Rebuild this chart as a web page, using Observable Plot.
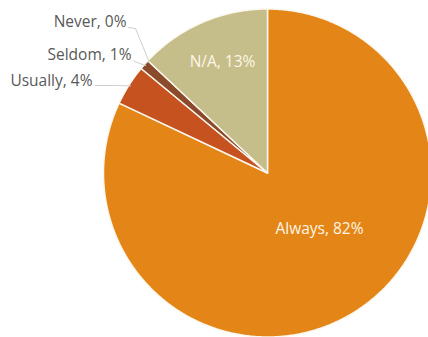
<!DOCTYPE html>
<html>
<head>
<meta charset="utf-8">
<script src="https://cdn.jsdelivr.net/npm/d3@7"></script>
<script src="https://cdn.jsdelivr.net/npm/@observablehq/plot@0.6"></script>
<style>
  html, body { margin: 0; padding: 0; background: #fff; }
  #chart svg { display: block; }
</style>
</head>
<body>
<div id="chart"></div>
<script>
// Data (clockwise from 12 o'clock)
const categories = ["Always", "Usually", "Seldom", "Never", "N/A"];
const percents   = [82, 4, 1, 0, 13];
const colors     = ["#E38517", "#C5521F", "#8B4A2B", "#8B4A2B", "#C5BE8A"];

const W = 428, H = 337;
const cx = 267, cy = 172.5, R = 164;

// pie angles (d3.pie, clockwise from top, no sorting)
const arcs = d3.pie().sort(null).value(d => d)(percents);

// polygon points in unit coordinates for each slice
const slicePts = [];
arcs.forEach((a, i) => {
  if (a.endAngle - a.startAngle <= 0) return;
  const n = Math.max(2, Math.ceil((a.endAngle - a.startAngle) / (Math.PI / 360)));
  slicePts.push({k: categories[i], x: 0, y: 0});
  for (let j = 0; j <= n; j++) {
    const t = a.startAngle + (a.endAngle - a.startAngle) * j / n;
    slicePts.push({k: categories[i], x: Math.sin(t), y: Math.cos(t)});
  }
  slicePts.push({k: categories[i], x: 0, y: 0});
});

const labelText = categories.map((c, i) => `${c}, ${percents[i]}%`);
const mid = arcs.map(a => (a.startAngle + a.endAngle) / 2);

// label layout (converted from pixel placement to unit coords)
const toU = px => (px - cx) / R, toV = py => (cy - py) / R;
const insidePos = {
  "Always": [toU(319), toV(229)],
  "N/A":    [toU(222), toV(62)]
};
const outsidePos = {
  "Never":   {x: toU(126), y: toV(22), start: [toU(128), toV(27)], elbow: [toU(135), toV(28)]},
  "Seldom":  {x: toU(131), y: toV(55), start: [toU(133), toV(60)], elbow: [toU(134), toV(61)]},
  "Usually": {x: toU(92),  y: toV(81), start: [toU(95), toV(85)],  elbow: [toU(118), toV(85)]}
};
const inside = [], outside = [], leaders = [];
categories.forEach((c, i) => {
  if (insidePos[c]) {
    inside.push({t: labelText[i], x: insidePos[c][0], y: insidePos[c][1]});
  } else {
    const p = outsidePos[c];
    outside.push({t: labelText[i], x: p.x, y: p.y});
    leaders.push({k: c, x: p.start[0], y: p.start[1]});
    leaders.push({k: c, x: p.elbow[0], y: p.elbow[1]});
    leaders.push({k: c, x: 0.99 * Math.sin(mid[i]), y: 0.99 * Math.cos(mid[i])});
  }
});

const chart = Plot.plot({
  width: W,
  height: H,
  margin: 0,
  style: {fontFamily: "'Open Sans', sans-serif", background: "#fff"},
  x: {domain: [-1, 1], range: [cx - R, cx + R], axis: null},
  y: {domain: [-1, 1], range: [cy + R, cy - R], axis: null},
  color: {domain: categories, range: colors},
  marks: [
    Plot.line(slicePts, {x: "x", y: "y", z: "k", fill: d => d.k, stroke: "#FBF7EE", strokeWidth: 1.5, strokeLinejoin: "round"}),
    Plot.line(leaders, {x: "x", y: "y", z: "k", stroke: "#CFCFCF", strokeWidth: 1}),
    Plot.text(inside, {x: "x", y: "y", text: "t", fill: "#FFF6E6", fontSize: 15.5}),
    Plot.text(outside, {x: "x", y: "y", text: "t", fill: "#595959", fontSize: 15.5, textAnchor: "end"})
  ]
});
document.getElementById("chart").appendChild(chart);
</script>
</body>
</html>
